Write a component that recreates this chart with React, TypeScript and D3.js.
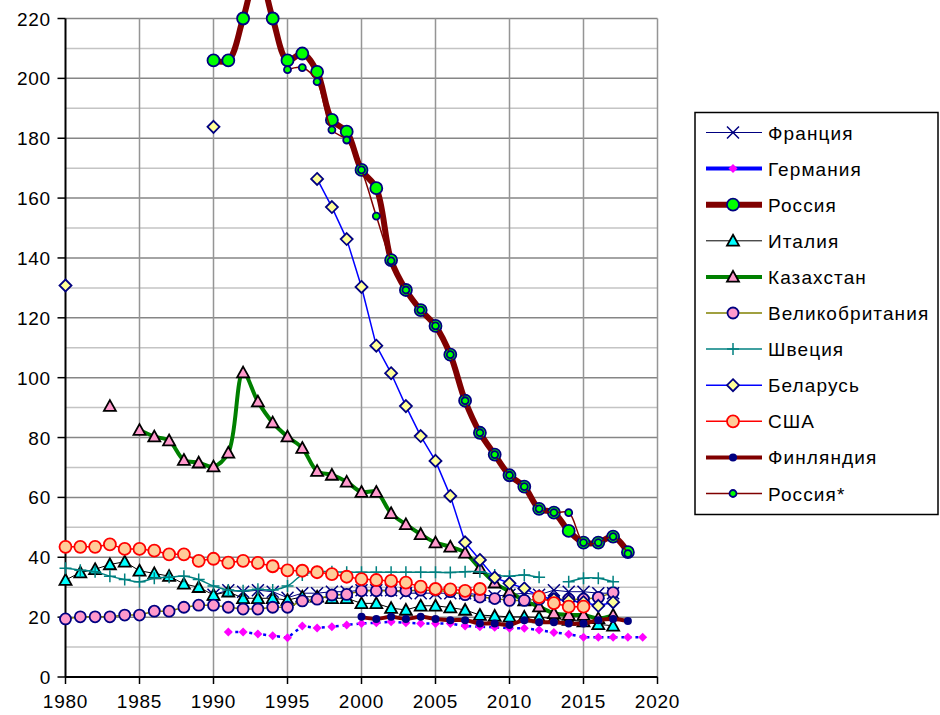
import React from 'react';
import * as d3 from 'd3';

// values per country, first element belongs to the start year
const franceStart = 1990;
const france = [27.5, 29, 28.5, 29, 28.5, 26.5, 28, 28, 28.5, 28.5, 29, 29, 29, 28, 28, 28, 28, 28, 27.5, 27, 27.5, 28, 27.5, 29, 28.5, 28.5, 28, 28];

const germanyStart = 1991;
const germany = [15, 15, 14.4, 13.8, 13.1, 17, 16.4, 16.8, 17.4, 17.9, 18.1, 18.5, 18.1, 17.9, 17.9, 17.9, 17, 16.8, 16.6, 16.3, 16.3, 15.7, 14.9, 14.3, 13.3, 13.3, 13.3, 13.3, 13.3];

const russiaStart = 1990;
const russia = [206, 206, 220, 236, 220, 206, 208.3, 202.2, 186.1, 182.2, 169.4, 163.3, 139.3, 129.3, 122.6, 117.3, 107.7, 92.3, 81.6, 74.3, 67.4, 63.6, 56.2, 54.9, 48.8, 44.9, 44.9, 46.9, 41.7];

const italyStart = 1980;
const italy = [32.4, 34.9, 36, 37.6, 38.5, 35.5, 34.6, 33.7, 31.1, 30, 27.4, 28.5, 26.3, 26.3, 26.3, 25.7, 26.8, 26.8, 26.3, 26.3, 24.6, 24.6, 23, 22.4, 23.8, 23.8, 23.2, 22.4, 20.7, 20.4, 20.1, 20.1, 19.9, 19.6, 19, 18.5, 17.6, 17.1];

const kazakhstanStart = 1983;
const kazakhstan = [90.5, null, 82.5, 80.3, 79, 72.5, 71.6, 70.3, 74.9, 101.7, 92, 85, 80.3, 76.5, 68.8, 67.5, 65.2, 61.8, 61.8, 54.7, 51, 47.7, 44.9, 43.5, 41.5, 36.3, 31.5, 28.5, 25.5, 23.5, 21.3, 20.7, 20.7, 19.6, 20.7];

const ukStart = 1980;
const uk = [19.4, 20.1, 20.1, 20.1, 20.7, 20.7, 22, 22, 23.3, 24, 24, 23.3, 22.7, 22.7, 23.3, 23.3, 25.4, 26, 27.4, 27.6, 28.8, 28.8, 28.8, 28.8, 29, 29, 28.5, 27.5, 26.7, 26.2, 25.6, 25.6, 26, 26, 26, 26, 26.6, 28.2];

const swedenStart = 1980;
const sweden = [36.3, 35.7, 35.2, 33.7, 32.6, 31.8, 33, 33.3, 33.7, 32.6, 30.4, 29.1, 28.8, 29.3, 29.1, 30.4, 34.1, 35.2, 35.2, 35, 35, 35, 35, 35, 35, 35, 34.9, 35.2, 35.2, 34.1, 33.7, 34.1, 33.3, null, 31.8, 33, 33, 31.8];

const belarusStart = 1980;
const belarus = [130.8, null, null, null, null, null, null, null, null, null, 183.8, null, null, null, null, null, null,
  166.4, 157, 146.3, 130.3, 110.7, 101.5, 90.5, 80.5, 72.2, 60.5, 45, 39.1, 33.2, 31.3, 29.6, 27, 26, 25.5, 25, 23.8, 25];

const usaStart = 1980;
const usa = [43.5, 43.5, 43.5, 44.3, 42.8, 42.8, 42.2, 41, 41, 38.8, 39.5, 38.2, 38.8, 38.1, 37, 35.6, 35.5, 35, 34.4, 33.5, 32.7, 32.4, 32.1, 31.5, 30.2, 29.4, 29.3, 28.8, 29.4, null, null, null, 26.7, 24.7, 23.5, 23.5];

const finlandStart = 2000;
const finland = [20.1, 19.4, 20.1, 19.4, 20.1, 19.4, 19, 19, 17.9, 17.9, 17.4, 19, 18.3, 18.3, 17.9, 17.9, 19, 19.4, 18.7];

const russia2Start = 1995;
const russia2 = [202.9, 203.6, 198.9, 182.8, 179.4, 169.4, 154, 139, 129.3, 122.6, 117.3, 107.7, 92.3, 81.6, 74.3, 67.4, 63.6, 56.2, 54.9, 54.9, 44.9, 44.9, 46.9, 41.2];

const xTicks = [1980, 1985, 1990, 1995, 2000, 2005, 2010, 2015, 2020];
const yTicks = [0, 20, 40, 60, 80, 100, 120, 140, 160, 180, 200, 220];

type Marker = 'x' | 'diamondSmall' | 'circle' | 'triangle' | 'plus' | 'diamond' | 'dot';

interface Series {
  name: string;
  start: number;
  values: (number | null)[];
  color: string;
  width: number;
  dash?: string;
  smooth?: boolean;
  marker: Marker;
  fill: string;
  stroke: string;
  r: number;
}

const series: Series[] = [
  { name: 'Франция', start: franceStart, values: france, color: '#000080', width: 1, marker: 'x', fill: 'none', stroke: '#000080', r: 6 },
  { name: 'Германия', start: germanyStart, values: germany, color: '#0000ff', width: 2.5, dash: '3,4', marker: 'diamondSmall', fill: '#ff00ff', stroke: 'none', r: 4.5 },
  { name: 'Россия', start: russiaStart, values: russia, color: '#800000', width: 6, smooth: true, marker: 'circle', fill: '#00ff00', stroke: '#000080', r: 6 },
  { name: 'Италия', start: italyStart, values: italy, color: '#000000', width: 1, marker: 'triangle', fill: '#00ffff', stroke: '#000000', r: 6 },
  { name: 'Казахстан', start: kazakhstanStart, values: kazakhstan, color: '#008000', width: 4, smooth: true, marker: 'triangle', fill: '#ff99cc', stroke: '#000000', r: 6 },
  { name: 'Великобритания', start: ukStart, values: uk, color: '#808000', width: 1.5, marker: 'circle', fill: '#ff99cc', stroke: '#000080', r: 5.5 },
  { name: 'Швеция', start: swedenStart, values: sweden, color: '#008080', width: 1.5, smooth: true, marker: 'plus', fill: 'none', stroke: '#008080', r: 6 },
  { name: 'Беларусь', start: belarusStart, values: belarus, color: '#0000ff', width: 1.5, marker: 'diamond', fill: '#ffff99', stroke: '#000080', r: 6 },
  { name: 'США', start: usaStart, values: usa, color: '#ff0000', width: 1.5, marker: 'circle', fill: '#ffcc99', stroke: '#ff0000', r: 6 },
  { name: 'Финляндия', start: finlandStart, values: finland, color: '#800000', width: 4, smooth: true, marker: 'dot', fill: '#000080', stroke: 'none', r: 4 },
  { name: 'Россия*', start: russia2Start, values: russia2, color: '#800000', width: 1.5, smooth: true, marker: 'circle', fill: '#00ff00', stroke: '#000080', r: 3.5 },
];

const markerPath = (m: Marker, r: number) => {
  switch (m) {
    case 'x':
      return `M${-r},${-r}L${r},${r}M${-r},${r}L${r},${-r}`;
    case 'plus':
      return `M${-r},0L${r},0M0,${-r}L0,${r}`;
    case 'triangle':
      return `M0,${-r}L${r},${r * 0.8}L${-r},${r * 0.8}Z`;
    case 'diamond':
    case 'diamondSmall':
      return `M0,${-r}L${r},0L0,${r}L${-r},0Z`;
    default:
      return d3.arc()({ innerRadius: 0, outerRadius: r, startAngle: 0, endAngle: 2 * Math.PI }) as string;
  }
};

const W = 940;
const H = 715;

export default function App() {
  const x = d3.scaleLinear().domain([1980, 2020]).range([65.5, 657.5]);
  const y = d3.scaleLinear().domain([0, 220]).range([677, 18.5]);
  const grid = d3.range(10, 230, 10);

  const font = 'Arial, "Liberation Sans", sans-serif';

  const legendX = 695;
  const legendY = 112.5;
  const rowH = 36.1;

  return (
    <div style={{ position: 'absolute', left: 0, top: 0 }}>
      <svg width={W} height={H} style={{ display: 'block', background: '#fff' }}>
        {/* grid */}
        {grid.map(v => (
          <line key={'h' + v} x1={x(1980)} x2={x(2020)} y1={y(v)} y2={y(v)}
            stroke={v % 20 === 0 ? '#868686' : '#c4c4c4'} strokeWidth={1.5} />
        ))}
        {xTicks.slice(1).map(t => (
          <line key={'v' + t} x1={x(t)} x2={x(t)} y1={y(0)} y2={y(220)} stroke="#959595" strokeWidth={1.5} />
        ))}

        {/* axes */}
        <line x1={x(1980)} x2={x(1980)} y1={y(0)} y2={y(220)} stroke="#000" strokeWidth={2} />
        <line x1={x(1980)} x2={x(2020)} y1={y(0)} y2={y(0)} stroke="#000" strokeWidth={2} />
        {yTicks.map(t => (
          <g key={'yt' + t}>
            <line x1={x(1980) - 8} x2={x(1980)} y1={y(t)} y2={y(t)} stroke="#000" strokeWidth={1.5} />
            <text x={51} y={y(t) + 7} textAnchor="end" fontFamily={font} fontSize={19} letterSpacing={0.8}>{t}</text>
          </g>
        ))}
        {xTicks.map(t => (
          <g key={'xt' + t}>
            <line x1={x(t)} x2={x(t)} y1={y(0)} y2={y(0) + 7} stroke="#000" strokeWidth={1.5} />
            <text x={x(t)} y={708} textAnchor="middle" fontFamily={font} fontSize={19} letterSpacing={0.8}>{t}</text>
          </g>
        ))}

        {/* series */}
        {series.map(s => {
          const pts = s.values.map((v, i) => ({ year: s.start + i, v }));
          const line = d3.line<{ year: number; v: number | null }>()
            .defined(d => d.v !== null)
            .x(d => x(d.year))
            .y(d => y(d.v as number))
            .curve(s.smooth ? d3.curveCatmullRom.alpha(0.5) : d3.curveLinear);
          return (
            <g key={s.name}>
              <path d={line(pts) || ''} fill="none" stroke={s.color} strokeWidth={s.width}
                strokeDasharray={s.dash} strokeLinejoin="round" />
              {pts.filter(p => p.v !== null).map(p => (
                <path key={p.year} transform={`translate(${x(p.year)},${y(p.v as number)})`}
                  d={markerPath(s.marker, s.r)} fill={s.fill}
                  stroke={s.stroke} strokeWidth={s.marker === 'x' || s.marker === 'plus' ? 1.5 : 1.8} />
              ))}
            </g>
          );
        })}

        {/* legend */}
        <rect x={legendX} y={legendY} width={243} height={402} fill="#fff" stroke="#000" strokeWidth={1.5} />
        {series.map((s, i) => {
          const cy = legendY + 20 + i * rowH;
          return (
            <g key={'lg' + s.name}>
              <line x1={706} x2={762} y1={cy} y2={cy} stroke={s.color}
                strokeWidth={s.name === 'Германия' ? 4 : s.width} />
              <path transform={`translate(733,${cy})`} d={markerPath(s.marker, s.r)} fill={s.fill}
                stroke={s.stroke} strokeWidth={s.marker === 'x' || s.marker === 'plus' ? 1.5 : 1.8} />
              <text x={768} y={cy + 7} fontFamily={font} fontSize={19} letterSpacing={1.1}>{s.name}</text>
            </g>
          );
        })}
      </svg>
    </div>
  );
}
